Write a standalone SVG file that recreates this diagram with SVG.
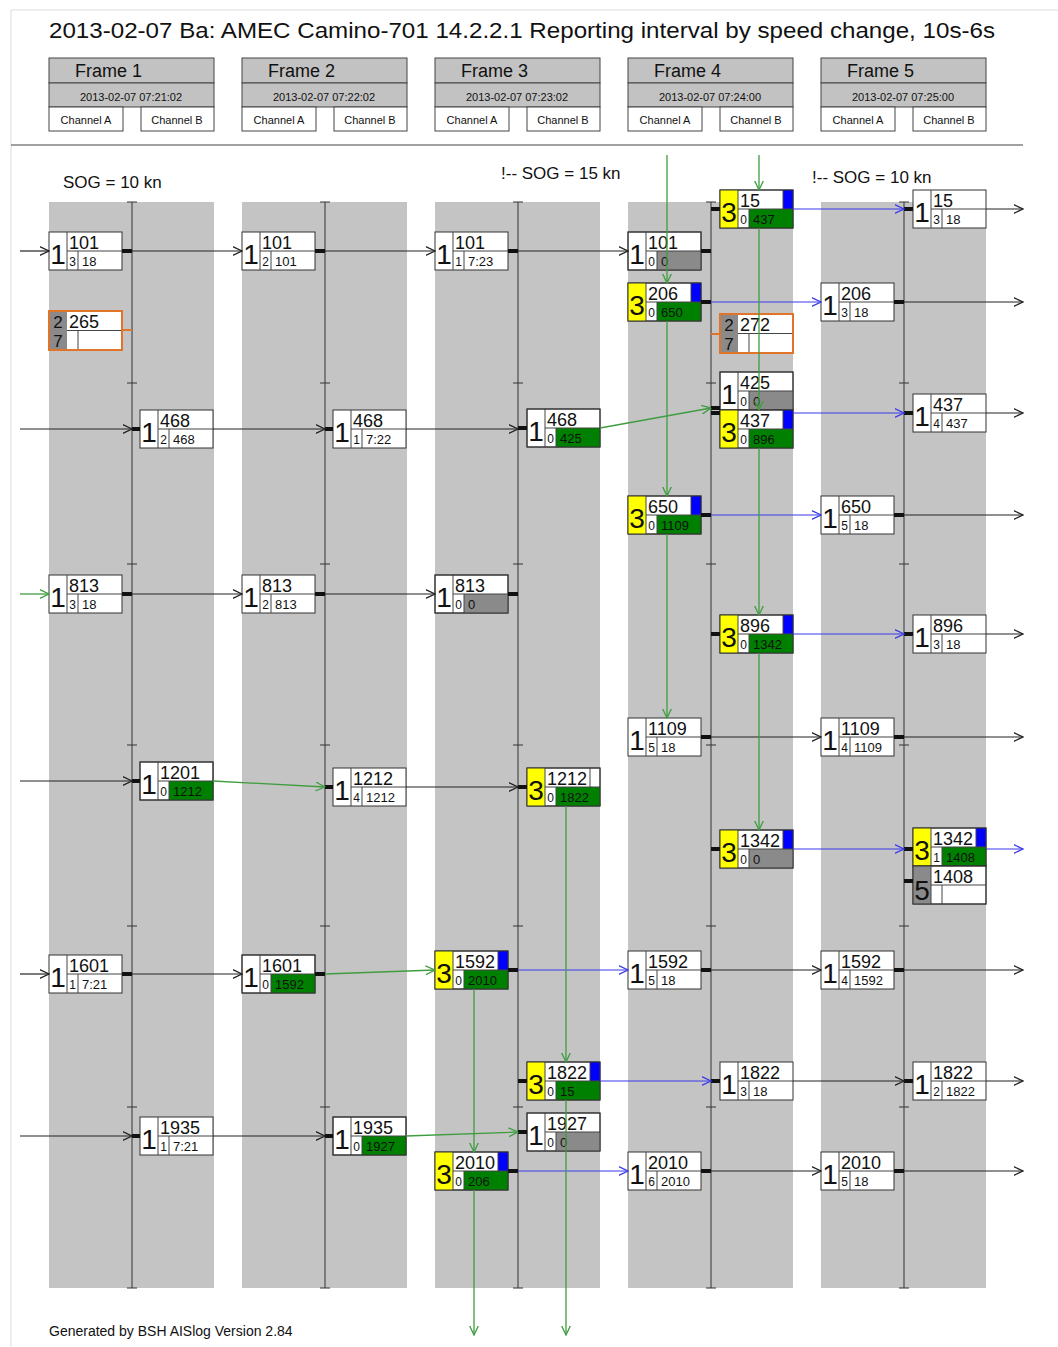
<svg xmlns="http://www.w3.org/2000/svg" width="1058" height="1347" viewBox="0 0 1058 1347">
<style>
text{font-family:"Liberation Sans",Arial,sans-serif;fill:#111}
.band{fill:#c4c4c4}
.vl{stroke:#333;stroke-width:1}
.tk{stroke:#333;stroke-width:1}
.hd{fill:#c2c2c2;stroke:#444;stroke-width:1}
.hb{fill:#fff;stroke:#444;stroke-width:1}
.box{fill:#fff;stroke:#333;stroke-width:1}
.obox{fill:none;stroke:#e2742a;stroke-width:2}
.dv{stroke:#444;stroke-width:1}
.ye{fill:#ffff00}
.bl{fill:#0000ff}
.gr{fill:#008000}
.gy{fill:#8a8a8a}
.big{font-size:28px;text-anchor:middle}
.od{font-size:17px;text-anchor:middle}
.num{font-size:18px}
.sm{font-size:12px;text-anchor:middle}
.val{font-size:13px}
.ft{font-size:18px}
.dt{font-size:11px;text-anchor:middle}
.ch{font-size:11px;text-anchor:middle}
.sog{font-size:17px}
.ck{stroke:#222;stroke-width:1.2;fill:none}
.cg{stroke:#3f9d3f;stroke-width:1.3;fill:none}
.cb{stroke:#3a3aee;stroke-width:1.2;fill:none}
.st{stroke:#111;stroke-width:4}
.so{stroke:#e2742a;stroke-width:2}
</style>
<defs>
<marker id="ak" viewBox="0 0 10 10" refX="9.5" refY="5" markerWidth="10" markerHeight="10" orient="auto" markerUnits="userSpaceOnUse"><path d="M0,0.5 L9.5,5 L0,9.5" fill="none" stroke="#222" stroke-width="1.3"/></marker>
<marker id="ag" viewBox="0 0 10 10" refX="9.5" refY="5" markerWidth="10" markerHeight="10" orient="auto" markerUnits="userSpaceOnUse"><path d="M0,0.5 L9.5,5 L0,9.5" fill="none" stroke="#3f9d3f" stroke-width="1.3"/></marker>
<marker id="ab" viewBox="0 0 10 10" refX="9.5" refY="5" markerWidth="10" markerHeight="10" orient="auto" markerUnits="userSpaceOnUse"><path d="M0,0.5 L9.5,5 L0,9.5" fill="none" stroke="#3a3aee" stroke-width="1.3"/></marker>
</defs>
<rect width="1058" height="1347" fill="#fff"/>
<line x1="11" y1="10" x2="1058" y2="10" stroke="#ddd"/>
<line x1="11" y1="10" x2="11" y2="1347" stroke="#ddd"/>
<text x="49" y="38" font-size="22.5" textLength="946" lengthAdjust="spacingAndGlyphs">2013-02-07 Ba: AMEC Camino-701 14.2.2.1 Reporting interval by speed change, 10s-6s</text>

<g id="headers">
<g id="hdr1"><rect class="hd" x="49" y="58" width="165" height="25"/><rect class="hd" x="49" y="83" width="165" height="24"/><rect class="hb" x="49" y="107" width="74" height="24"/><rect class="hb" x="141" y="107" width="73" height="24"/><text class="ft" x="75" y="77">Frame 1</text><text class="dt" x="131" y="101">2013-02-07 07:21:02</text><text class="ch" x="86" y="124">Channel A</text><text class="ch" x="177" y="124">Channel B</text></g>
<g id="hdr2"><rect class="hd" x="242" y="58" width="165" height="25"/><rect class="hd" x="242" y="83" width="165" height="24"/><rect class="hb" x="242" y="107" width="74" height="24"/><rect class="hb" x="334" y="107" width="73" height="24"/><text class="ft" x="268" y="77">Frame 2</text><text class="dt" x="324" y="101">2013-02-07 07:22:02</text><text class="ch" x="279" y="124">Channel A</text><text class="ch" x="370" y="124">Channel B</text></g>
<g id="hdr3"><rect class="hd" x="435" y="58" width="165" height="25"/><rect class="hd" x="435" y="83" width="165" height="24"/><rect class="hb" x="435" y="107" width="74" height="24"/><rect class="hb" x="527" y="107" width="73" height="24"/><text class="ft" x="461" y="77">Frame 3</text><text class="dt" x="517" y="101">2013-02-07 07:23:02</text><text class="ch" x="472" y="124">Channel A</text><text class="ch" x="563" y="124">Channel B</text></g>
<g id="hdr4"><rect class="hd" x="628" y="58" width="165" height="25"/><rect class="hd" x="628" y="83" width="165" height="24"/><rect class="hb" x="628" y="107" width="74" height="24"/><rect class="hb" x="720" y="107" width="73" height="24"/><text class="ft" x="654" y="77">Frame 4</text><text class="dt" x="710" y="101">2013-02-07 07:24:00</text><text class="ch" x="665" y="124">Channel A</text><text class="ch" x="756" y="124">Channel B</text></g>
<g id="hdr5"><rect class="hd" x="821" y="58" width="165" height="25"/><rect class="hd" x="821" y="83" width="165" height="24"/><rect class="hb" x="821" y="107" width="74" height="24"/><rect class="hb" x="913" y="107" width="73" height="24"/><text class="ft" x="847" y="77">Frame 5</text><text class="dt" x="903" y="101">2013-02-07 07:25:00</text><text class="ch" x="858" y="124">Channel A</text><text class="ch" x="949" y="124">Channel B</text></g>
</g>
<line x1="11" y1="145" x2="1023" y2="145" stroke="#444" stroke-width="1.2"/>

<text class="sog" x="63" y="188">SOG = 10 kn</text>
<text class="sog" x="501" y="179">!-- SOG = 15 kn</text>
<text class="sog" x="812" y="183">!-- SOG = 10 kn</text>

<g id="bands">
<rect class="band" x="49" y="202" width="165" height="1086"/>
<rect class="band" x="242" y="202" width="165" height="1086"/>
<rect class="band" x="435" y="202" width="165" height="1086"/>
<rect class="band" x="628" y="202" width="165" height="1086"/>
<rect class="band" x="821" y="202" width="165" height="1086"/>
</g>
<g id="timelines">
<path class="vl" d="M132,202V1288M325,202V1288M518,202V1288M711,202V1288M904,202V1288"/>
<path class="tk" d="M127,202h10M127,383h10M127,564h10M127,745h10M127,926h10M127,1107h10M127,1288h10 M320,202h10M320,383h10M320,564h10M320,745h10M320,926h10M320,1107h10M320,1288h10 M513,202h10M513,383h10M513,564h10M513,745h10M513,926h10M513,1107h10M513,1288h10 M706,202h10M706,383h10M706,564h10M706,745h10M706,926h10M706,1107h10M706,1288h10 M899,202h10M899,383h10M899,564h10M899,745h10M899,926h10M899,1107h10M899,1288h10"/>
</g>

<g id="nodes">
<!-- Frame 1 -->
<g id="f1-101" transform="translate(49,232)"><rect class="box" width="73" height="38"/><path class="dv" d="M18,0V38M18,19H73M29,19V38"/><text class="big" x="9" y="32">1</text><text class="num" x="20" y="17">101</text><text class="sm" x="23.5" y="34">3</text><text class="val" x="33" y="34">18</text></g>
<g id="f1-265" transform="translate(49,311)"><rect fill="#fff" width="73" height="39"/><rect class="gy" width="18" height="39"/><path class="dv" d="M18,19.5H73M29,19.5V39"/><rect class="obox" width="73" height="39"/><text class="od" x="9" y="17">2</text><text class="od" x="9" y="36">7</text><text class="num" x="20" y="17">265</text></g>
<g id="f1-468" transform="translate(140,410)"><rect class="box" width="73" height="38"/><path class="dv" d="M18,0V38M18,19H73M29,19V38"/><text class="big" x="9" y="32">1</text><text class="num" x="20" y="17">468</text><text class="sm" x="23.5" y="34">2</text><text class="val" x="33" y="34">468</text></g>
<g id="f1-813" transform="translate(49,575)"><rect class="box" width="73" height="38"/><path class="dv" d="M18,0V38M18,19H73M29,19V38"/><text class="big" x="9" y="32">1</text><text class="num" x="20" y="17">813</text><text class="sm" x="23.5" y="34">3</text><text class="val" x="33" y="34">18</text></g>
<g id="f1-1201" transform="translate(140,762)"><rect class="box" width="73" height="38"/><rect class="gr" x="29" y="19" width="44" height="19"/><path class="dv" d="M18,0V38M18,19H73M29,19V38"/><rect class="box" fill="none" width="73" height="38" style="fill:none"/><text class="big" x="9" y="32">1</text><text class="num" x="20" y="17">1201</text><text class="sm" x="23.5" y="34">0</text><text class="val" x="33" y="34">1212</text></g>
<g id="f1-1601" transform="translate(49,955)"><rect class="box" width="73" height="38"/><path class="dv" d="M18,0V38M18,19H73M29,19V38"/><text class="big" x="9" y="32">1</text><text class="num" x="20" y="17">1601</text><text class="sm" x="23.5" y="34">1</text><text class="val" x="33" y="34">7:21</text></g>
<g id="f1-1935" transform="translate(140,1117)"><rect class="box" width="73" height="38"/><path class="dv" d="M18,0V38M18,19H73M29,19V38"/><text class="big" x="9" y="32">1</text><text class="num" x="20" y="17">1935</text><text class="sm" x="23.5" y="34">1</text><text class="val" x="33" y="34">7:21</text></g>
<!-- Frame 2 -->
<g id="f2-101" transform="translate(242,232)"><rect class="box" width="73" height="38"/><path class="dv" d="M18,0V38M18,19H73M29,19V38"/><text class="big" x="9" y="32">1</text><text class="num" x="20" y="17">101</text><text class="sm" x="23.5" y="34">2</text><text class="val" x="33" y="34">101</text></g>
<g id="f2-468" transform="translate(333,410)"><rect class="box" width="73" height="38"/><path class="dv" d="M18,0V38M18,19H73M29,19V38"/><text class="big" x="9" y="32">1</text><text class="num" x="20" y="17">468</text><text class="sm" x="23.5" y="34">1</text><text class="val" x="33" y="34">7:22</text></g>
<g id="f2-813" transform="translate(242,575)"><rect class="box" width="73" height="38"/><path class="dv" d="M18,0V38M18,19H73M29,19V38"/><text class="big" x="9" y="32">1</text><text class="num" x="20" y="17">813</text><text class="sm" x="23.5" y="34">2</text><text class="val" x="33" y="34">813</text></g>
<g id="f2-1212" transform="translate(333,768)"><rect class="box" width="73" height="38"/><path class="dv" d="M18,0V38M18,19H73M29,19V38"/><text class="big" x="9" y="32">1</text><text class="num" x="20" y="17">1212</text><text class="sm" x="23.5" y="34">4</text><text class="val" x="33" y="34">1212</text></g>
<g id="f2-1601" transform="translate(242,955)"><rect class="box" width="73" height="38"/><rect class="gr" x="29" y="19" width="44" height="19"/><path class="dv" d="M18,0V38M18,19H73M29,19V38"/><rect class="box" width="73" height="38" style="fill:none"/><text class="big" x="9" y="32">1</text><text class="num" x="20" y="17">1601</text><text class="sm" x="23.5" y="34">0</text><text class="val" x="33" y="34">1592</text></g>
<g id="f2-1935" transform="translate(333,1117)"><rect class="box" width="73" height="38"/><rect class="gr" x="29" y="19" width="44" height="19"/><path class="dv" d="M18,0V38M18,19H73M29,19V38"/><rect class="box" width="73" height="38" style="fill:none"/><text class="big" x="9" y="32">1</text><text class="num" x="20" y="17">1935</text><text class="sm" x="23.5" y="34">0</text><text class="val" x="33" y="34">1927</text></g>
<!-- Frame 3 -->
<g id="f3-101" transform="translate(435,232)"><rect class="box" width="73" height="38"/><path class="dv" d="M18,0V38M18,19H73M29,19V38"/><text class="big" x="9" y="32">1</text><text class="num" x="20" y="17">101</text><text class="sm" x="23.5" y="34">1</text><text class="val" x="33" y="34">7:23</text></g>
<g id="f3-468" transform="translate(527,409)"><rect class="box" width="73" height="38"/><rect class="gr" x="29" y="19" width="44" height="19"/><path class="dv" d="M18,0V38M18,19H73M29,19V38"/><rect class="box" width="73" height="38" style="fill:none"/><text class="big" x="9" y="32">1</text><text class="num" x="20" y="17">468</text><text class="sm" x="23.5" y="34">0</text><text class="val" x="33" y="34">425</text></g>
<g id="f3-813" transform="translate(435,575)"><rect class="box" width="73" height="38"/><rect class="gy" x="29" y="19" width="44" height="19"/><path class="dv" d="M18,0V38M18,19H73M29,19V38"/><rect class="box" width="73" height="38" style="fill:none"/><text class="big" x="9" y="32">1</text><text class="num" x="20" y="17">813</text><text class="sm" x="23.5" y="34">0</text><text class="val" x="33" y="34">0</text></g>
<g id="f3-1212" transform="translate(527,768)"><rect class="box" width="73" height="38"/><rect class="ye" width="18" height="38"/><rect class="gr" x="29" y="19" width="44" height="19"/><path class="dv" d="M18,0V38M18,19H73M29,19V38M63,0V19"/><rect class="box" width="73" height="38" style="fill:none"/><text class="big" x="9" y="32">3</text><text class="num" x="20" y="17">1212</text><text class="sm" x="23.5" y="34">0</text><text class="val" x="33" y="34">1822</text></g>
<g id="f3-1592" transform="translate(435,951)"><rect class="box" width="73" height="38"/><rect class="ye" width="18" height="38"/><rect class="gr" x="29" y="19" width="44" height="19"/><rect class="bl" x="63" width="10" height="19"/><path class="dv" d="M18,0V38M18,19H73M29,19V38M63,0V19"/><rect class="box" width="73" height="38" style="fill:none"/><text class="big" x="9" y="32">3</text><text class="num" x="20" y="17">1592</text><text class="sm" x="23.5" y="34">0</text><text class="val" x="33" y="34">2010</text></g>
<g id="f3-1822" transform="translate(527,1062)"><rect class="box" width="73" height="38"/><rect class="ye" width="18" height="38"/><rect class="gr" x="29" y="19" width="44" height="19"/><rect class="bl" x="63" width="10" height="19"/><path class="dv" d="M18,0V38M18,19H73M29,19V38M63,0V19"/><rect class="box" width="73" height="38" style="fill:none"/><text class="big" x="9" y="32">3</text><text class="num" x="20" y="17">1822</text><text class="sm" x="23.5" y="34">0</text><text class="val" x="33" y="34">15</text></g>
<g id="f3-1927" transform="translate(527,1113)"><rect class="box" width="73" height="38"/><rect class="gy" x="29" y="19" width="44" height="19"/><path class="dv" d="M18,0V38M18,19H73M29,19V38"/><rect class="box" width="73" height="38" style="fill:none"/><text class="big" x="9" y="32">1</text><text class="num" x="20" y="17">1927</text><text class="sm" x="23.5" y="34">0</text><text class="val" x="33" y="34">0</text></g>
<g id="f3-2010" transform="translate(435,1152)"><rect class="box" width="73" height="38"/><rect class="ye" width="18" height="38"/><rect class="gr" x="29" y="19" width="44" height="19"/><rect class="bl" x="63" width="10" height="19"/><path class="dv" d="M18,0V38M18,19H73M29,19V38M63,0V19"/><rect class="box" width="73" height="38" style="fill:none"/><text class="big" x="9" y="32">3</text><text class="num" x="20" y="17">2010</text><text class="sm" x="23.5" y="34">0</text><text class="val" x="33" y="34">206</text></g>
<!-- Frame 4 -->
<g id="f4-15" transform="translate(720,190)"><rect class="box" width="73" height="38"/><rect class="ye" width="18" height="38"/><rect class="gr" x="29" y="19" width="44" height="19"/><rect class="bl" x="63" width="10" height="19"/><path class="dv" d="M18,0V38M18,19H73M29,19V38M63,0V19"/><rect class="box" width="73" height="38" style="fill:none"/><text class="big" x="9" y="32">3</text><text class="num" x="20" y="17">15</text><text class="sm" x="23.5" y="34">0</text><text class="val" x="33" y="34">437</text></g>
<g id="f4-101" transform="translate(628,232)"><rect class="box" width="73" height="38"/><rect class="gy" x="29" y="19" width="44" height="19"/><path class="dv" d="M18,0V38M18,19H73M29,19V38"/><rect class="box" width="73" height="38" style="fill:none"/><text class="big" x="9" y="32">1</text><text class="num" x="20" y="17">101</text><text class="sm" x="23.5" y="34">0</text><text class="val" x="33" y="34">0</text></g>
<g id="f4-206" transform="translate(628,283)"><rect class="box" width="73" height="38"/><rect class="ye" width="18" height="38"/><rect class="gr" x="29" y="19" width="44" height="19"/><rect class="bl" x="63" width="10" height="19"/><path class="dv" d="M18,0V38M18,19H73M29,19V38M63,0V19"/><rect class="box" width="73" height="38" style="fill:none"/><text class="big" x="9" y="32">3</text><text class="num" x="20" y="17">206</text><text class="sm" x="23.5" y="34">0</text><text class="val" x="33" y="34">650</text></g>
<g id="f4-272" transform="translate(720,314)"><rect fill="#fff" width="73" height="39"/><rect class="gy" width="18" height="39"/><path class="dv" d="M18,19.5H73M29,19.5V39"/><rect class="obox" width="73" height="39"/><text class="od" x="9" y="17">2</text><text class="od" x="9" y="36">7</text><text class="num" x="20" y="17">272</text></g>
<g id="f4-425" transform="translate(720,372)"><rect class="box" width="73" height="38"/><rect class="gy" x="29" y="19" width="44" height="19"/><path class="dv" d="M18,0V38M18,19H73M29,19V38"/><rect class="box" width="73" height="38" style="fill:none"/><text class="big" x="9" y="32">1</text><text class="num" x="20" y="17">425</text><text class="sm" x="23.5" y="34">0</text><text class="val" x="33" y="34">0</text></g>
<g id="f4-437" transform="translate(720,410)"><rect class="box" width="73" height="38"/><rect class="ye" width="18" height="38"/><rect class="gr" x="29" y="19" width="44" height="19"/><rect class="bl" x="63" width="10" height="19"/><path class="dv" d="M18,0V38M18,19H73M29,19V38M63,0V19"/><rect class="box" width="73" height="38" style="fill:none"/><text class="big" x="9" y="32">3</text><text class="num" x="20" y="17">437</text><text class="sm" x="23.5" y="34">0</text><text class="val" x="33" y="34">896</text></g>
<g id="f4-650" transform="translate(628,496)"><rect class="box" width="73" height="38"/><rect class="ye" width="18" height="38"/><rect class="gr" x="29" y="19" width="44" height="19"/><rect class="bl" x="63" width="10" height="19"/><path class="dv" d="M18,0V38M18,19H73M29,19V38M63,0V19"/><rect class="box" width="73" height="38" style="fill:none"/><text class="big" x="9" y="32">3</text><text class="num" x="20" y="17">650</text><text class="sm" x="23.5" y="34">0</text><text class="val" x="33" y="34">1109</text></g>
<g id="f4-896" transform="translate(720,615)"><rect class="box" width="73" height="38"/><rect class="ye" width="18" height="38"/><rect class="gr" x="29" y="19" width="44" height="19"/><rect class="bl" x="63" width="10" height="19"/><path class="dv" d="M18,0V38M18,19H73M29,19V38M63,0V19"/><rect class="box" width="73" height="38" style="fill:none"/><text class="big" x="9" y="32">3</text><text class="num" x="20" y="17">896</text><text class="sm" x="23.5" y="34">0</text><text class="val" x="33" y="34">1342</text></g>
<g id="f4-1109" transform="translate(628,718)"><rect class="box" width="73" height="38"/><path class="dv" d="M18,0V38M18,19H73M29,19V38"/><text class="big" x="9" y="32">1</text><text class="num" x="20" y="17">1109</text><text class="sm" x="23.5" y="34">5</text><text class="val" x="33" y="34">18</text></g>
<g id="f4-1342" transform="translate(720,830)"><rect class="box" width="73" height="38"/><rect class="ye" width="18" height="38"/><rect class="gy" x="29" y="19" width="44" height="19"/><rect class="bl" x="63" width="10" height="19"/><path class="dv" d="M18,0V38M18,19H73M29,19V38M63,0V19"/><rect class="box" width="73" height="38" style="fill:none"/><text class="big" x="9" y="32">3</text><text class="num" x="20" y="17">1342</text><text class="sm" x="23.5" y="34">0</text><text class="val" x="33" y="34">0</text></g>
<g id="f4-1592" transform="translate(628,951)"><rect class="box" width="73" height="38"/><path class="dv" d="M18,0V38M18,19H73M29,19V38"/><text class="big" x="9" y="32">1</text><text class="num" x="20" y="17">1592</text><text class="sm" x="23.5" y="34">5</text><text class="val" x="33" y="34">18</text></g>
<g id="f4-1822" transform="translate(720,1062)"><rect class="box" width="73" height="38"/><path class="dv" d="M18,0V38M18,19H73M29,19V38"/><text class="big" x="9" y="32">1</text><text class="num" x="20" y="17">1822</text><text class="sm" x="23.5" y="34">3</text><text class="val" x="33" y="34">18</text></g>
<g id="f4-2010" transform="translate(628,1152)"><rect class="box" width="73" height="38"/><path class="dv" d="M18,0V38M18,19H73M29,19V38"/><text class="big" x="9" y="32">1</text><text class="num" x="20" y="17">2010</text><text class="sm" x="23.5" y="34">6</text><text class="val" x="33" y="34">2010</text></g>
<!-- Frame 5 -->
<g id="f5-15" transform="translate(913,190)"><rect class="box" width="73" height="38"/><path class="dv" d="M18,0V38M18,19H73M29,19V38"/><text class="big" x="9" y="32">1</text><text class="num" x="20" y="17">15</text><text class="sm" x="23.5" y="34">3</text><text class="val" x="33" y="34">18</text></g>
<g id="f5-206" transform="translate(821,283)"><rect class="box" width="73" height="38"/><path class="dv" d="M18,0V38M18,19H73M29,19V38"/><text class="big" x="9" y="32">1</text><text class="num" x="20" y="17">206</text><text class="sm" x="23.5" y="34">3</text><text class="val" x="33" y="34">18</text></g>
<g id="f5-437" transform="translate(913,394)"><rect class="box" width="73" height="38"/><path class="dv" d="M18,0V38M18,19H73M29,19V38"/><text class="big" x="9" y="32">1</text><text class="num" x="20" y="17">437</text><text class="sm" x="23.5" y="34">4</text><text class="val" x="33" y="34">437</text></g>
<g id="f5-650" transform="translate(821,496)"><rect class="box" width="73" height="38"/><path class="dv" d="M18,0V38M18,19H73M29,19V38"/><text class="big" x="9" y="32">1</text><text class="num" x="20" y="17">650</text><text class="sm" x="23.5" y="34">5</text><text class="val" x="33" y="34">18</text></g>
<g id="f5-896" transform="translate(913,615)"><rect class="box" width="73" height="38"/><path class="dv" d="M18,0V38M18,19H73M29,19V38"/><text class="big" x="9" y="32">1</text><text class="num" x="20" y="17">896</text><text class="sm" x="23.5" y="34">3</text><text class="val" x="33" y="34">18</text></g>
<g id="f5-1109" transform="translate(821,718)"><rect class="box" width="73" height="38"/><path class="dv" d="M18,0V38M18,19H73M29,19V38"/><text class="big" x="9" y="32">1</text><text class="num" x="20" y="17">1109</text><text class="sm" x="23.5" y="34">4</text><text class="val" x="33" y="34">1109</text></g>
<g id="f5-1342" transform="translate(913,828)"><rect class="box" width="73" height="38"/><rect class="ye" width="18" height="38"/><rect class="gr" x="29" y="19" width="44" height="19"/><rect class="bl" x="63" width="10" height="19"/><path class="dv" d="M18,0V38M18,19H73M29,19V38M63,0V19"/><rect class="box" width="73" height="38" style="fill:none"/><text class="big" x="9" y="32">3</text><text class="num" x="20" y="17">1342</text><text class="sm" x="23.5" y="34">1</text><text class="val" x="33" y="34">1408</text></g>
<g id="f5-1408" transform="translate(913,866)"><rect class="box" width="73" height="38"/><rect class="gy" width="18" height="38"/><path class="dv" d="M18,0V38M18,19H73M29,19V38"/><rect class="box" width="73" height="38" style="fill:none"/><text class="big" x="9" y="34">5</text><text class="num" x="20" y="17">1408</text></g>
<g id="f5-1592" transform="translate(821,951)"><rect class="box" width="73" height="38"/><path class="dv" d="M18,0V38M18,19H73M29,19V38"/><text class="big" x="9" y="32">1</text><text class="num" x="20" y="17">1592</text><text class="sm" x="23.5" y="34">4</text><text class="val" x="33" y="34">1592</text></g>
<g id="f5-1822" transform="translate(913,1062)"><rect class="box" width="73" height="38"/><path class="dv" d="M18,0V38M18,19H73M29,19V38"/><text class="big" x="9" y="32">1</text><text class="num" x="20" y="17">1822</text><text class="sm" x="23.5" y="34">2</text><text class="val" x="33" y="34">1822</text></g>
<g id="f5-2010" transform="translate(821,1152)"><rect class="box" width="73" height="38"/><path class="dv" d="M18,0V38M18,19H73M29,19V38"/><text class="big" x="9" y="32">1</text><text class="num" x="20" y="17">2010</text><text class="sm" x="23.5" y="34">5</text><text class="val" x="33" y="34">18</text></g>
</g>

<g id="connectors">
<!-- stubs -->
<path class="st" d="M122,251H132M315,251H325M508,251H518M701,251H711
M132,429H140M325,429H333M518,428H527M711,408H720
M122,594H132M315,594H325M508,594H518
M132,781H140M325,787H333M518,787H527
M122,974H132M315,974H325M508,970H518M701,970H711M894,970H904
M132,1136H140M325,1136H333M518,1132H527
M518,1081H527M711,1081H720M904,1081H913
M508,1171H518M701,1171H711M894,1171H904
M711,209H720M904,209H913
M701,302H711M894,302H904
M711,413H720M904,413H913
M701,515H711M894,515H904
M711,634H720M904,634H913
M701,737H711M894,737H904
M711,849H720M904,849H913M904,881H913"/>
<path class="so" d="M122,330H132M711,334H720"/>
<!-- incoming from left -->
<line class="ck" x1="20" y1="251" x2="49" y2="251" marker-end="url(#ak)"/>
<line class="ck" x1="20" y1="429" x2="132" y2="429" marker-end="url(#ak)"/>
<line class="cg" x1="20" y1="594" x2="49" y2="594" marker-end="url(#ag)"/>
<line class="ck" x1="20" y1="781" x2="132" y2="781" marker-end="url(#ak)"/>
<line class="ck" x1="20" y1="974" x2="49" y2="974" marker-end="url(#ak)"/>
<line class="ck" x1="20" y1="1136" x2="132" y2="1136" marker-end="url(#ak)"/>
<!-- row 101 -->
<line class="ck" x1="132" y1="251" x2="242" y2="251" marker-end="url(#ak)"/>
<line class="ck" x1="325" y1="251" x2="435" y2="251" marker-end="url(#ak)"/>
<line class="ck" x1="518" y1="251" x2="628" y2="251" marker-end="url(#ak)"/>
<!-- row 468 -->
<line class="ck" x1="213" y1="429" x2="325" y2="429" marker-end="url(#ak)"/>
<line class="ck" x1="406" y1="429" x2="518" y2="429" marker-end="url(#ak)"/>
<line class="cg" x1="600" y1="428" x2="711" y2="408" marker-end="url(#ag)"/>
<!-- row 813 -->
<line class="ck" x1="132" y1="594" x2="242" y2="594" marker-end="url(#ak)"/>
<line class="ck" x1="325" y1="594" x2="435" y2="594" marker-end="url(#ak)"/>
<!-- row 1201/1212 -->
<line class="cg" x1="213" y1="781" x2="325" y2="787" marker-end="url(#ag)"/>
<line class="ck" x1="406" y1="787" x2="518" y2="787" marker-end="url(#ak)"/>
<!-- row 1601/1592 -->
<line class="ck" x1="132" y1="974" x2="242" y2="974" marker-end="url(#ak)"/>
<line class="cg" x1="325" y1="974" x2="435" y2="970" marker-end="url(#ag)"/>
<line class="cb" x1="518" y1="970" x2="628" y2="970" marker-end="url(#ab)"/>
<line class="ck" x1="711" y1="970" x2="821" y2="970" marker-end="url(#ak)"/>
<line class="ck" x1="904" y1="970" x2="1023" y2="970" marker-end="url(#ak)"/>
<!-- row 1935 -->
<line class="ck" x1="213" y1="1136" x2="325" y2="1136" marker-end="url(#ak)"/>
<line class="cg" x1="406" y1="1136" x2="518" y2="1132" marker-end="url(#ag)"/>
<!-- row 1822 -->
<line class="cb" x1="600" y1="1081" x2="711" y2="1081" marker-end="url(#ab)"/>
<line class="ck" x1="793" y1="1081" x2="904" y2="1081" marker-end="url(#ak)"/>
<line class="ck" x1="986" y1="1081" x2="1023" y2="1081" marker-end="url(#ak)"/>
<!-- row 2010 -->
<line class="cb" x1="518" y1="1171" x2="628" y2="1171" marker-end="url(#ab)"/>
<line class="ck" x1="711" y1="1171" x2="821" y2="1171" marker-end="url(#ak)"/>
<line class="ck" x1="904" y1="1171" x2="1023" y2="1171" marker-end="url(#ak)"/>
<!-- frame 4 / 5 rows -->
<line class="cb" x1="793" y1="209" x2="904" y2="209" marker-end="url(#ab)"/>
<line class="ck" x1="986" y1="209" x2="1023" y2="209" marker-end="url(#ak)"/>
<line class="cb" x1="711" y1="302" x2="821" y2="302" marker-end="url(#ab)"/>
<line class="ck" x1="904" y1="302" x2="1023" y2="302" marker-end="url(#ak)"/>
<line class="cb" x1="793" y1="413" x2="904" y2="413" marker-end="url(#ab)"/>
<line class="ck" x1="986" y1="413" x2="1023" y2="413" marker-end="url(#ak)"/>
<line class="cb" x1="711" y1="515" x2="821" y2="515" marker-end="url(#ab)"/>
<line class="ck" x1="904" y1="515" x2="1023" y2="515" marker-end="url(#ak)"/>
<line class="cb" x1="793" y1="634" x2="904" y2="634" marker-end="url(#ab)"/>
<line class="ck" x1="986" y1="634" x2="1023" y2="634" marker-end="url(#ak)"/>
<line class="ck" x1="711" y1="737" x2="821" y2="737" marker-end="url(#ak)"/>
<line class="ck" x1="904" y1="737" x2="1023" y2="737" marker-end="url(#ak)"/>
<line class="cb" x1="793" y1="849" x2="904" y2="849" marker-end="url(#ab)"/>
<line class="cb" x1="986" y1="849" x2="1023" y2="849" marker-end="url(#ab)"/>
<!-- vertical green chains -->
<line class="cg" x1="759" y1="155" x2="759" y2="190" marker-end="url(#ag)"/>
<line class="cg" x1="759" y1="228" x2="759" y2="410" marker-end="url(#ag)"/>
<line class="cg" x1="759" y1="448" x2="759" y2="615" marker-end="url(#ag)"/>
<line class="cg" x1="759" y1="653" x2="759" y2="830" marker-end="url(#ag)"/>
<line class="cg" x1="667" y1="155" x2="667" y2="283" marker-end="url(#ag)"/>
<line class="cg" x1="667" y1="321" x2="667" y2="496" marker-end="url(#ag)"/>
<line class="cg" x1="667" y1="534" x2="667" y2="718" marker-end="url(#ag)"/>
<line class="cg" x1="566" y1="806" x2="566" y2="1062" marker-end="url(#ag)"/>
<line class="cg" x1="566" y1="1100" x2="566" y2="1335" marker-end="url(#ag)"/>
<line class="cg" x1="474" y1="989" x2="474" y2="1152" marker-end="url(#ag)"/>
<line class="cg" x1="474" y1="1190" x2="474" y2="1335" marker-end="url(#ag)"/>
</g>

<text x="49" y="1336" font-size="14">Generated by BSH AISlog Version 2.84</text>
</svg>
